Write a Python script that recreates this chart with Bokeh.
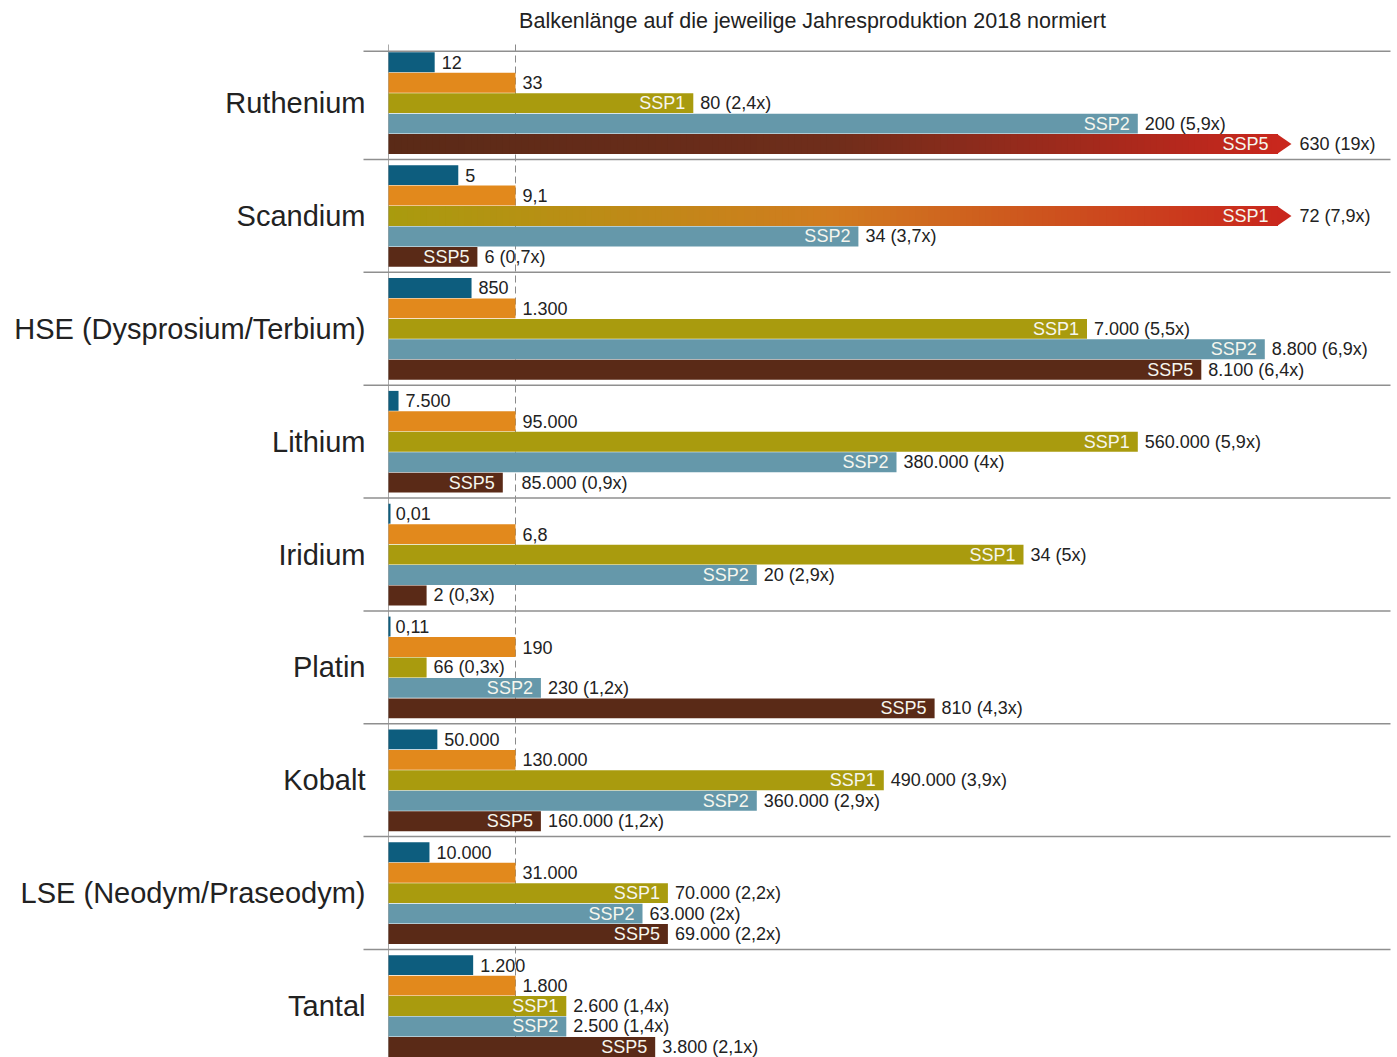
from bokeh.plotting import figure
from bokeh.models import Range1d, ColumnDataSource
from bokeh.embed import file_html
from bokeh.resources import INLINE
from bokeh.core.properties import value

# ---- data -----------------------------------------------------------------
elements = ["Ruthenium", "Scandium", "HSE (Dysprosium/Terbium)", "Lithium",
            "Iridium", "Platin", "Kobalt", "LSE (Neodym/Praseodym)", "Tantal"]
demand_2018 = [12, 5, 850, 7500, 0.01, 0.11, 50000, 10000, 1200]
production_2018 = [33, 9.1, 1300, 95000, 6.8, 190, 130000, 31000, 1800]
ssp1_demand = [80, 72, 7000, 560000, 34, 66, 490000, 70000, 2600]
ssp1_factor = [2.4, 7.9, 5.5, 5.9, 5, 0.3, 3.9, 2.2, 1.4]
ssp2_demand = [200, 34, 8800, 380000, 20, 230, 360000, 63000, 2500]
ssp2_factor = [5.9, 3.7, 6.9, 4, 2.9, 1.2, 2.9, 2, 1.4]
ssp5_demand = [630, 6, 8100, 85000, 2, 810, 160000, 69000, 3800]
ssp5_factor = [19, 0.7, 6.4, 0.9, 0.3, 4.3, 1.2, 2.2, 2.1]
scenarios = ["SSP1", "SSP2", "SSP5"]
title_text = "Balkenlänge auf die jeweilige Jahresproduktion 2018 normiert"

# ---- style ----------------------------------------------------------------
row_colors = ["#0d5d7e", "#e2891c", "#a99b0e", "#6598aa", "#5a2a17"]
overflow_stops = {2: ["#a99b0e", "#d17b1f", "#c9271d"],
                  3: ["#6598aa", "#7a5a5a", "#c9271d"],
                  4: ["#5a2a17", "#6f2d1b", "#c9271d"]}
FONT = value("Liberation Sans")
TEXT = "#222222"
RULE = "#8f8f8f"

W, H = 1397, 1057
X0_PX, UNIT_PX = 388, 127.0          # zero line and width of "1x"
TOP_PX, GROUP_PX = 46.1, 112.86      # top of first group, group pitch
BAR_OFF, BAR_PITCH, BAR_H = 5.7, 20.45, 19.9
CAP = 7.0                            # longest drawn bar (in multiples)
ARROW = 0.11                         # arrow head length beyond CAP


def dx(px):
    return px / UNIT_PX


def dy(px):
    return px / GROUP_PX


def de(v):
    """German number format: 1.300 / 9,1"""
    if float(v).is_integer():
        return f"{int(v):,}".replace(",", ".")
    return f"{v:g}".replace(".", ",")


def hex_rgb(h):
    h = h.lstrip("#")
    return tuple(int(h[i:i + 2], 16) for i in (0, 2, 4))


def blend(stops, t):
    seg = min(int(t * (len(stops) - 1)), len(stops) - 2)
    lt = t * (len(stops) - 1) - seg
    a, b = hex_rgb(stops[seg]), hex_rgb(stops[seg + 1])
    c = [round(a[k] + (b[k] - a[k]) * lt) for k in range(3)]
    return "#%02x%02x%02x" % tuple(c)


p = figure(width=W, height=H, output_backend="svg", toolbar_location=None,
           x_range=Range1d(-dx(X0_PX), dx(W - X0_PX)),
           y_range=Range1d(dy(H - TOP_PX), -dy(TOP_PX)),
           x_axis_location=None, y_axis_location=None, min_border=0)
p.outline_line_color = None
p.xgrid.visible = False
p.ygrid.visible = False
p.background_fill_color = "white"

# reference lines: zero and "1x" (production 2018)
y_lo, y_hi = -dy(TOP_PX - 44), dy(H - TOP_PX)
p.segment(x0=[0], y0=[y_lo], x1=[0], y1=[y_hi], line_color="#a8a8a8", line_width=1)
p.segment(x0=[1], y0=[y_lo], x1=[1], y1=[y_hi], line_color="#8a8a8a",
          line_width=1, line_dash="7 4")

# group separators
sep_y = [dy(BAR_OFF - 1)] + list(range(1, len(elements)))
p.segment(x0=[-dx(X0_PX - 363)] * len(sep_y), y0=sep_y,
          x1=[dx(1390 - X0_PX)] * len(sep_y), y1=sep_y,
          line_color=RULE, line_width=1.5)

bars = dict(left=[], right=[], top=[], bottom=[], color=[])
grad = dict(left=[], right=[], top=[], bottom=[], color=[])
thin = dict(x=[], y0=[], y1=[], color=[])
heads_x, heads_y, heads_c = [], [], []
val_lbl = dict(x=[], y=[], text=[])
tag_lbl = dict(x=[], y=[], text=[])
cat_lbl = dict(x=[], y=[], text=[])

scen_vals = [ssp1_demand, ssp2_demand, ssp5_demand]
scen_facs = [ssp1_factor, ssp2_factor, ssp5_factor]

for g, name in enumerate(elements):
    rows = [(demand_2018[g] / production_2018[g], de(demand_2018[g]), None),
            (1.0, de(production_2018[g]), None)]
    for s in range(3):
        f = scen_facs[s][g]
        rows.append((f, f"{de(scen_vals[s][g])} ({de(f)}x)",
                     scenarios[s] if f >= 0.5 else None))

    for j, (ratio, label, tag) in enumerate(rows):
        top = g + dy(BAR_OFF + j * BAR_PITCH)
        bot = top + dy(BAR_H)
        mid = (top + bot) / 2
        over = ratio > CAP
        end = min(ratio, CAP)
        if over:
            # gradient towards red: each slice runs to the bar end and is
            # overdrawn by the next one, so no seams appear between slices
            n = 140
            for i in range(n):
                grad["left"].append(end * i / n)
                grad["right"].append(end)
                grad["top"].append(top)
                grad["bottom"].append(bot)
                grad["color"].append(blend(overflow_stops[j], (i + 0.5) / n))
            heads_x.append([end - 0.004, end + ARROW, end - 0.004])
            heads_y.append([top, mid, bot])
            heads_c.append(overflow_stops[j][-1])
            lx = end + ARROW + dx(8)
            tx = end - dx(9)
        else:
            bars["left"].append(0)
            bars["right"].append(end)
            bars["top"].append(top)
            bars["bottom"].append(bot)
            bars["color"].append(row_colors[j])
            if ratio < 0.02:
                thin["x"].append(dx(1))
                thin["y0"].append(top)
                thin["y1"].append(bot)
                thin["color"].append(row_colors[j])
            lx = end + dx(7)
            if 0.88 < end < 1.0:
                lx = 1 + dx(6)
            tx = end - dx(8)
        val_lbl["x"].append(lx)
        val_lbl["y"].append(mid)
        val_lbl["text"].append(label)
        if tag:
            tag_lbl["x"].append(tx)
            tag_lbl["y"].append(mid)
            tag_lbl["text"].append(tag)

    cat_lbl["x"].append(-dx(X0_PX - 365))
    cat_lbl["y"].append(g + dy(BAR_OFF + 2 * BAR_PITCH + BAR_H / 2))
    cat_lbl["text"].append(name)

p.quad(left="left", right="right", top="top", bottom="bottom", fill_color="color",
       line_color=None, source=ColumnDataSource(bars))
p.quad(left="left", right="right", top="top", bottom="bottom", fill_color="color",
       line_color=None, source=ColumnDataSource(grad))
p.segment(x0="x", y0="y0", x1="x", y1="y1", line_color="color", line_width=2,
          source=ColumnDataSource(thin))
p.patches(xs=heads_x, ys=heads_y, fill_color=heads_c, line_color=None)

p.text(x="x", y="y", text="text", source=ColumnDataSource(val_lbl),
       text_font=FONT, text_font_size="18px", text_color=TEXT,
       text_align="left", text_baseline="middle")
p.text(x="x", y="y", text="text", source=ColumnDataSource(tag_lbl),
       text_font=FONT, text_font_size="18px", text_color="#f6f6ee",
       text_align="right", text_baseline="middle")
p.text(x="x", y="y", text="text", source=ColumnDataSource(cat_lbl),
       text_font=FONT, text_font_size="29px", text_color=TEXT,
       text_align="right", text_baseline="middle")
p.text(x=[dx(812 - X0_PX)], y=[-dy(TOP_PX - 20)], text=[title_text],
       text_font=FONT, text_font_size="21.5px", text_color=TEXT,
       text_align="center", text_baseline="middle")

with open("out.html", "w") as fh:
    fh.write(file_html(p, INLINE))
